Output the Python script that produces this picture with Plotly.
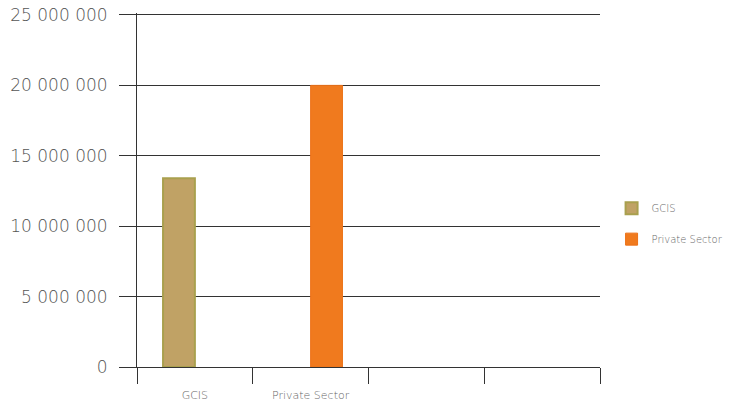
import plotly.graph_objects as go

categories = ["GCIS", "Private Sector", " ", "  "]
series_names = ["GCIS", "Private Sector"]
gcis_values = [13400000, None, None, None]
private_values = [None, 20000000, None, None]
y_ticks = [0, 5000000, 10000000, 15000000, 20000000, 25000000]

font_family = "DejaVu Sans, sans-serif"

fig = go.Figure()
fig.add_trace(go.Bar(
    name=series_names[0], x=categories, y=gcis_values,
    marker=dict(color="#c0a265", line=dict(color="#a9a04e", width=2)),
    legendgroup="a",
))
fig.add_trace(go.Bar(
    name=series_names[1], x=categories, y=private_values,
    marker=dict(color="#f07a1e", line=dict(color="#ec7218", width=1)),
    legendgroup="b",
))

fig.update_layout(
    width=746, height=406,
    margin=dict(l=137, r=146, t=13, b=39, autoexpand=False),
    paper_bgcolor="white", plot_bgcolor="white",
    barmode="group", bargap=0.45, bargroupgap=0,
    separators=". ",
    showlegend=True,
    legend=dict(
        x=1.025, xanchor="left", y=0.405, yanchor="middle",
        traceorder="grouped", tracegroupgap=12,
        font=dict(family=font_family, size=10, color="#666", weight=200),
        itemwidth=30,
    ),
    font=dict(family=font_family, color="#555"),
)
fig.update_xaxes(
    type="category", categoryorder="array", categoryarray=categories,
    range=[-0.5, 3.5], automargin=False,
    showline=True, linecolor="#333", linewidth=1,
    ticks="outside", tickson="boundaries", ticklen=16, tickcolor="#333", tickwidth=1,
    ticklabelstandoff=18,
    tickfont=dict(family=font_family, size=11, color="#666", weight=200),
    showgrid=False,
)
fig.update_yaxes(
    range=[0, 25140000], tickvals=y_ticks, tickformat=",d", automargin=False,
    showline=True, linecolor="#333", linewidth=1,
    ticks="outside", ticklen=17, tickcolor="#333", tickwidth=1,
    ticklabelstandoff=8,
    showgrid=True, gridcolor="#333", gridwidth=1,
    zeroline=False,
    tickfont=dict(family=font_family, size=17, color="#555", weight=200),
)

fig.write_html("out.html")
